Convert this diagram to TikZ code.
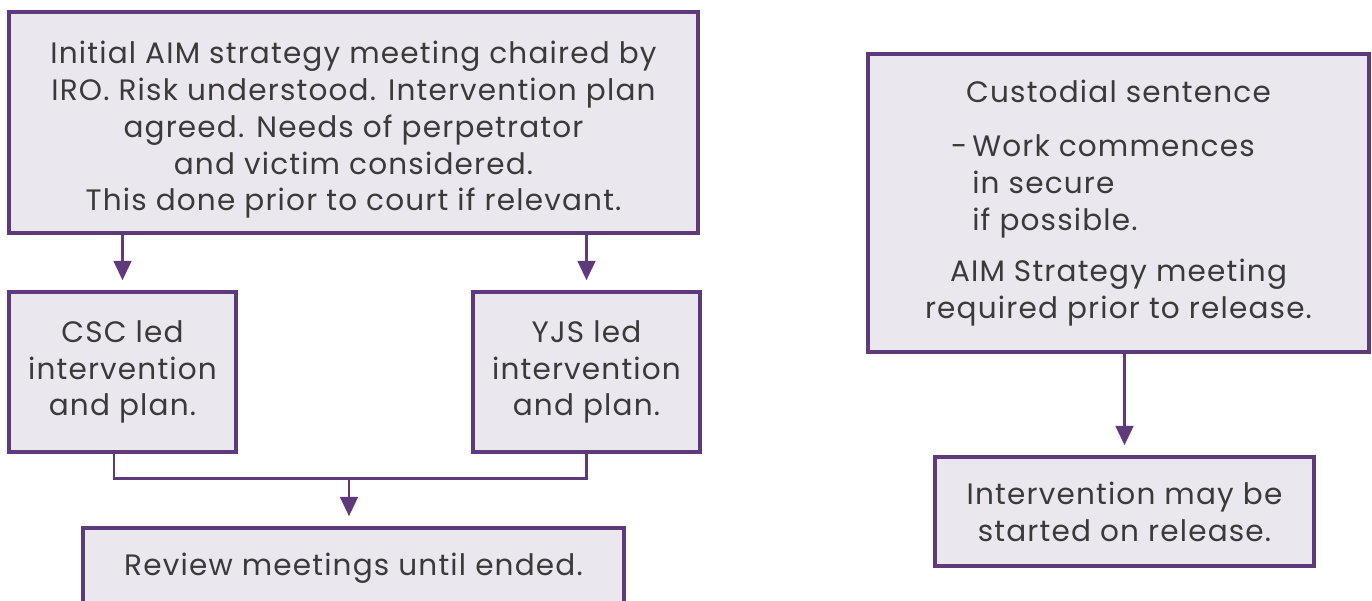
\documentclass[tikz,border=0pt]{standalone}
\usepackage{fontspec}
\setmainfont{Poppins}[LetterSpace=4]
\usetikzlibrary{arrows.meta}
\definecolor{aimpurple}{HTML}{5E3A7A}
\definecolor{aimfill}{HTML}{EAE7EE}
\definecolor{aimtext}{HTML}{3A3A3A}
\tikzset{
  aimbox/.style={draw=aimpurple, fill=aimfill, line width=2pt, text=aimtext,
    align=center, inner sep=0pt, font=\fontsize{16.8}{21}\selectfont},
  aimline/.style={draw=aimpurple, line width=1.7pt},
  aimarrow/.style={aimline, -{Triangle[length=11pt,width=10pt]}, shorten >=5.7pt}
}
\begin{document}
\begin{tikzpicture}

\useasboundingbox (0,0) rectangle (27.44,-12);
\clip (0,0) rectangle (27.44,-12);

\node [aimbox, minimum width=13.78cm, minimum height=4.42cm] (initial) at (7.07,-2.45) {\rule{0pt}{21pt}Initial AIM strategy meeting chaired by\\IRO. Risk understood. Intervention plan\\agreed. Needs of perpetrator\\and victim considered.\\This done prior to court if relevant.};
\node [aimbox, minimum width=4.54cm, minimum height=3.2cm] (csc) at (2.45,-7.44) {CSC led\\intervention\\and plan.};
\node [aimbox, minimum width=4.54cm, minimum height=3.2cm] (yjs) at (11.73,-7.44) {YJS led\\intervention\\and plan.};
\node [aimbox, minimum width=10.82cm, minimum height=1.6cm] (review) at (7.07,-11.36) {Review meetings until ended.};

\node [aimbox, minimum width=10.02cm, minimum height=5.96cm] (custody) at (22.37,-4.06) {Custodial sentence\\[15pt]
  \hspace*{-0.2cm}\begin{tabular}{@{}l@{}}\llap{-\,}Work commences\\in secure\\if possible.\end{tabular}\\[9pt]
  AIM Strategy meeting\\required prior to release.};
\node [aimbox, minimum width=7.58cm, minimum height=2.18cm] (release) at (22.49,-10.23) {Intervention may be\\started on release.};

\coordinate (join) at (6.98,-9.56);

\draw [aimarrow] (initial.south -| csc) -- (csc.north);
\draw [aimarrow] (initial.south -| yjs) -- (yjs.north);
\draw [aimline] ([xshift=-0.17cm]csc.south) |- (join) -| (yjs.south);
\draw [aimarrow] (join) -- (join |- review.north);
\draw [aimarrow] (custody.south -| release) -- (release.north);
\end{tikzpicture}
\end{document}
